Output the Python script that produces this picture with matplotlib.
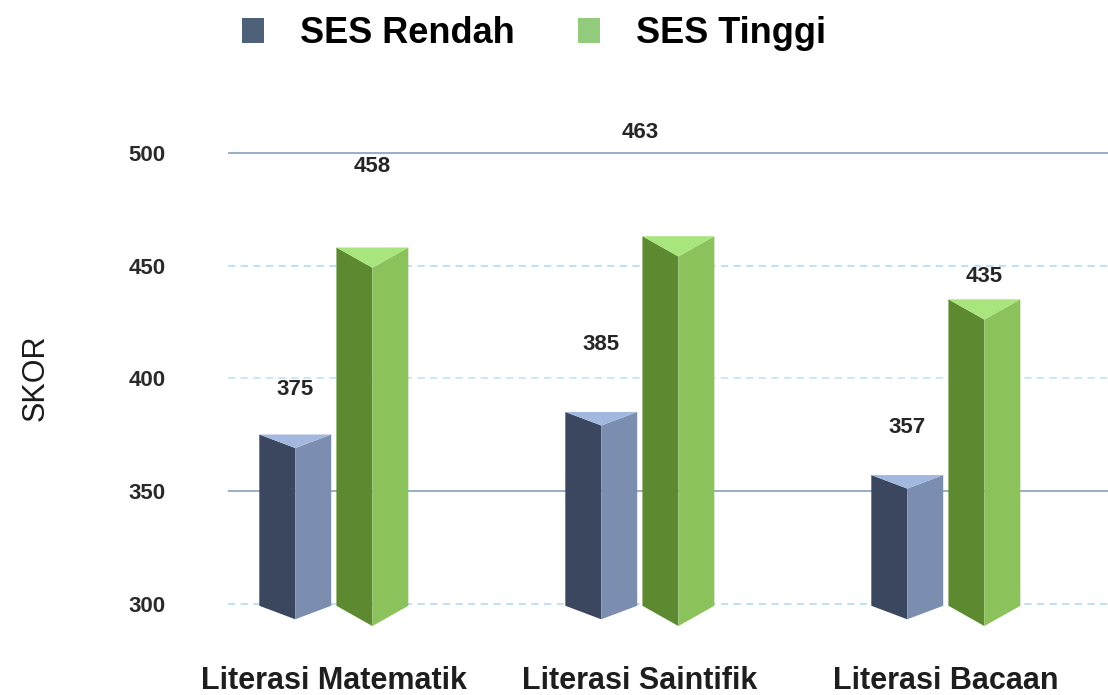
import matplotlib
matplotlib.use('Agg')
import matplotlib.pyplot as plt
from matplotlib.patches import Polygon, Patch
import numpy as np

# data
categories = ['Literasi Matematik', 'Literasi Saintifik', 'Literasi Bacaan']
series_names = ['SES Rendah', 'SES Tinggi']
ses_rendah = [375, 385, 357]
ses_tinggi = [458, 463, 435]
y_ticks = [300, 350, 400, 450, 500]

# style
plt.rcParams['font.family'] = ['Liberation Sans', 'DejaVu Sans']
face_left = ['#3b475f', '#5d8a30']
face_right = ['#7b8eaf', '#8cc25c']
face_top = ['#a2b8de', '#a8e57c']
legend_col = ['#4d6178', '#92cb7c']
grid_col = ['#b9def0', '#90a8c4', '#c6e6f3', '#b9def0', '#90a8c4']
grid_ls = [(0, (4, 3)), '-', (0, (4, 3)), (0, (4, 3)), '-']
depth = [6, 9]
bar_w = 0.235
offsets = [-0.126, 0.126]
base = 299
# label offsets (x in group units, y in score units)
label_dx = [[0, 0, 0], [0, -0.124, 0]]
label_dy = [[20, 30, 21], [36, 46, 10]]

fig = plt.figure(figsize=(11.08, 6.95), dpi=100)
ax = fig.add_axes([0.206, 0.083, 0.794, 0.736])
ax.set_xlim(-0.345, 2.53)
ax.set_ylim(285, 512)

for k, t in enumerate(y_ticks):
    ax.axhline(t, color=grid_col[k], ls=grid_ls[k], lw=1.3, zorder=0)

x = np.arange(len(categories))
for s, vals in enumerate([ses_rendah, ses_tinggi]):
    d = depth[s]
    for i, v in enumerate(vals):
        c = x[i] + offsets[s]
        L, R = c - bar_w / 2, c + bar_w / 2
        ax.add_patch(Polygon([(L, v), (c, v - d), (c, base - d), (L, base)],
                             closed=True, fc=face_left[s], ec='none', zorder=2))
        ax.add_patch(Polygon([(c, v - d), (R, v), (R, base), (c, base - d)],
                             closed=True, fc=face_right[s], ec='none', zorder=2))
        ax.add_patch(Polygon([(L, v), (R, v), (c, v - d)],
                             closed=True, fc=face_top[s], ec='none', zorder=3))
        ax.text(c + label_dx[s][i], v + label_dy[s][i], str(v), ha='center',
                va='center', fontsize=16, fontweight='bold', color='#262626')

ax.set_xticks(x)
ax.set_xticklabels(categories, fontsize=22, fontweight='bold', color='#1e1e1e')
ax.set_yticks(y_ticks)
ax.set_yticklabels([str(t) for t in y_ticks], fontsize=16, fontweight='bold',
                   color='#2a2a2a')
ax.tick_params(axis='y', length=0, pad=45)
ax.tick_params(axis='x', length=0, pad=21)
for sp in ax.spines.values():
    sp.set_visible(False)

fig.text(0.032, 0.456, 'SKOR', rotation=90, ha='center', va='center',
         fontsize=22, color='#1a1a1a')

handles = [Patch(fc=legend_col[k], ec='none', label=series_names[k]) for k in range(2)]
fig.legend(handles=handles, loc='center', bbox_to_anchor=(0.482, 0.952), ncol=2,
           frameon=False, handlelength=0.6, handleheight=0.7,
           handletextpad=1.0, columnspacing=1.75,
           prop={'size': 26, 'weight': 'bold'})

fig.savefig('out.png', dpi=100)
